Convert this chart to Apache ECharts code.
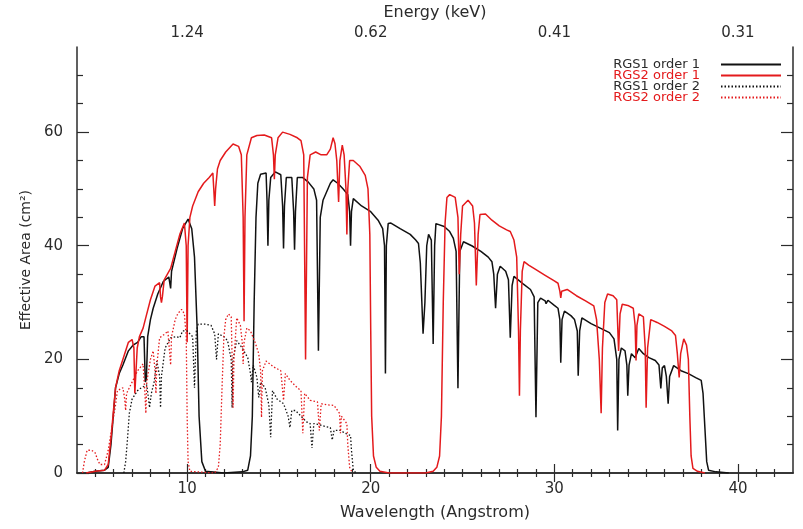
<!DOCTYPE html>
<html>
<head>
<meta charset="utf-8">
<script src="https://cdn.jsdelivr.net/npm/echarts@6/dist/echarts.min.js"></script>
<style>
  html, body { margin: 0; padding: 0; background: #fff; }
  #chart { width: 803px; height: 529px; }
</style>
</head>
<body>
<div id="chart"></div>
<script>
// wavelength (Angstrom) / effective area (cm^2)
const rgs1Order1 = [
  [4.5, 0], [5.0, 0.3], [5.5, 0.5], [5.7, 1], [5.85, 5], [6.0, 11], [6.1, 15], [6.3, 17.5],
  [6.5, 19], [6.8, 21.5], [7.05, 22.5], [7.3, 23], [7.5, 24], [7.65, 24], [7.72, 16],
  [7.78, 16.5], [7.85, 24], [8.0, 27], [8.15, 29], [8.4, 31.5], [8.7, 33.7], [9.0, 34.5],
  [9.1, 32.5], [9.15, 35.5], [9.45, 39.5], [9.75, 43], [10.05, 44.7], [10.25, 43], [10.4, 38],
  [10.55, 25], [10.65, 10], [10.8, 2], [11.0, 0.3], [12.0, 0], [13.0, 0.2], [13.3, 0.5],
  [13.45, 3], [13.55, 10], [13.65, 30], [13.75, 45], [13.85, 51], [14.0, 52.6], [14.3, 52.8],
  [14.35, 48], [14.4, 40], [14.45, 48], [14.55, 52], [14.8, 53], [15.1, 52.5], [15.2, 47],
  [15.25, 39.5], [15.3, 47], [15.4, 52], [15.7, 52], [15.8, 46], [15.85, 39.3], [15.9, 46],
  [16.0, 52], [16.3, 52], [16.6, 51.2], [16.9, 50], [17.05, 48], [17.15, 21.5], [17.25, 45],
  [17.4, 48], [17.6, 49.5], [17.8, 51], [17.95, 51.6], [18.2, 51], [18.5, 50], [18.75, 49],
  [18.85, 46], [18.9, 40], [18.95, 46], [19.05, 48.3], [19.5, 47], [20.0, 46], [20.4, 44.5],
  [20.65, 43], [20.75, 40], [20.8, 17.5], [20.85, 40], [20.95, 43.9], [21.1, 44], [21.6, 43],
  [22.15, 42], [22.45, 41], [22.6, 40.4], [22.7, 37], [22.8, 36.7], [22.85, 24.5], [22.95, 30],
  [23.05, 40], [23.15, 42], [23.3, 41], [23.4, 22.7], [23.48, 40], [23.55, 43.9], [24.0, 43.4],
  [24.3, 42.5], [24.5, 41.3], [24.65, 39], [24.75, 14.9], [24.85, 39], [25.05, 40.7],
  [25.5, 40], [26.0, 39], [26.4, 38], [26.6, 37.2], [26.7, 35], [26.8, 29], [26.9, 35],
  [27.05, 36.4], [27.35, 35.5], [27.5, 34], [27.6, 23.8], [27.7, 33], [27.8, 34.6],
  [28.3, 33.3], [28.7, 32.3], [28.9, 31], [29.0, 9.8], [29.1, 30], [29.25, 30.8], [29.5, 30.3],
  [29.55, 29.8], [29.65, 30.4], [30.0, 29.5], [30.2, 29], [30.3, 27], [30.35, 19.4],
  [30.42, 27], [30.55, 28.5], [30.9, 27.7], [31.1, 27], [31.25, 25], [31.3, 17.1], [31.38, 25],
  [31.5, 27.3], [32.0, 26.3], [32.5, 25.5], [33.0, 24.7], [33.25, 23.6], [33.4, 20],
  [33.45, 7.5], [33.52, 20], [33.65, 22], [33.85, 21.5], [33.95, 19], [34.0, 13.6], [34.07, 19],
  [34.2, 21], [34.4, 20.3], [34.6, 21.9], [34.85, 21], [35.15, 20.3], [35.5, 19.8], [35.7, 19],
  [35.8, 14.9], [35.88, 18.5], [36.0, 18.9], [36.1, 17], [36.2, 12.2], [36.28, 17], [36.5, 18.9],
  [36.9, 18], [37.3, 17.5], [37.7, 16.8], [38.0, 16.3], [38.1, 14], [38.2, 8], [38.3, 2],
  [38.4, 0.5], [38.8, 0.2], [39.5, 0],
];

const rgs2Order1 = [
  [4.5, 0], [5.0, 0.3], [5.5, 0.5], [5.7, 1.5], [5.85, 6], [6.0, 11.5], [6.1, 15], [6.3, 18],
  [6.55, 20.5], [6.8, 23], [7.0, 23.5], [7.1, 22], [7.15, 14], [7.22, 14], [7.28, 22], [7.4, 24],
  [7.6, 25.5], [7.8, 28], [8.0, 30.5], [8.25, 32.9], [8.5, 33.5], [8.55, 31], [8.6, 30],
  [8.65, 31], [8.75, 34], [9.1, 36], [9.35, 39], [9.6, 42], [9.85, 44], [9.95, 40], [10.0, 23],
  [10.05, 40], [10.15, 45], [10.3, 47], [10.6, 49.5], [10.9, 51], [11.2, 52], [11.4, 52.8],
  [11.45, 50], [11.5, 47], [11.55, 50], [11.65, 53.5], [11.8, 55], [12.1, 56.5], [12.5, 57.9],
  [12.8, 57.5], [12.95, 56], [13.05, 45], [13.1, 26.7], [13.15, 45], [13.25, 56], [13.5, 59],
  [13.8, 59.4], [14.2, 59.5], [14.6, 59], [14.7, 56], [14.75, 51.7], [14.8, 56], [14.95, 59],
  [15.2, 60], [15.6, 59.6], [16.0, 59], [16.2, 58.5], [16.35, 56], [16.45, 20], [16.55, 52],
  [16.7, 56], [17.0, 56.5], [17.3, 56], [17.6, 56], [17.8, 57], [17.95, 59], [18.05, 58],
  [18.15, 55], [18.25, 47.7], [18.32, 55], [18.45, 57.7], [18.55, 56], [18.65, 50], [18.7, 42],
  [18.75, 50], [18.85, 55], [19.05, 55], [19.4, 54], [19.7, 52.4], [19.85, 50], [19.95, 42],
  [20.0, 25], [20.05, 10], [20.15, 3], [20.3, 1], [20.5, 0.3], [21.0, 0], [23.0, 0],
  [23.4, 0.3], [23.6, 1], [23.75, 3], [23.85, 10], [23.95, 30], [24.05, 44], [24.15, 48.5],
  [24.3, 49], [24.6, 48.5], [24.75, 45], [24.82, 35], [24.9, 42], [25.0, 47], [25.3, 48],
  [25.55, 47], [25.65, 44], [25.75, 33], [25.85, 42], [25.95, 45.5], [26.25, 45.6], [26.6, 44.5],
  [27.0, 43.5], [27.4, 42.8], [27.6, 42.5], [27.8, 41], [27.95, 38], [28.05, 25], [28.1, 13.6],
  [28.15, 25], [28.25, 35.5], [28.35, 37.2], [28.6, 36.6], [29.0, 35.8], [29.5, 34.8],
  [30.0, 33.8], [30.2, 33.4], [30.3, 32], [30.35, 30.8], [30.4, 32], [30.7, 32.3], [31.2, 31.2],
  [31.7, 30.3], [32.15, 29.4], [32.3, 27], [32.45, 20], [32.55, 10.5], [32.62, 22], [32.75, 30],
  [32.9, 31.5], [33.2, 31.2], [33.4, 30.5], [33.5, 21.5], [33.58, 28], [33.7, 29.7], [34.0, 29.5],
  [34.3, 29], [34.4, 26], [34.45, 19.8], [34.5, 26], [34.6, 28], [34.85, 27.5], [34.95, 22],
  [35.0, 11.5], [35.08, 22], [35.25, 27], [35.6, 26.5], [36.0, 25.8], [36.4, 25], [36.6, 24.2],
  [36.7, 21], [36.8, 16.8], [36.88, 21], [37.05, 23.6], [37.2, 22.5], [37.3, 20], [37.38, 10],
  [37.45, 3], [37.55, 0.8], [37.8, 0.3], [38.2, 0],
];

const rgs1Order2 = [
  [6.55, 0], [6.65, 2], [6.75, 6], [6.85, 10.5], [7.0, 13], [7.3, 14.5], [7.5, 15], [7.8, 15.5],
  [7.9, 13], [7.95, 11.5], [8.05, 14], [8.2, 16], [8.35, 19.7], [8.5, 17], [8.55, 11.5],
  [8.6, 17], [8.8, 22], [9.1, 23.8], [9.4, 24], [9.6, 23.8], [9.75, 25], [10.0, 25], [10.3, 24],
  [10.4, 15], [10.5, 25], [10.6, 26.2], [11.0, 26.2], [11.3, 26], [11.5, 24.5], [11.6, 20],
  [11.7, 24.5], [12.0, 24], [12.2, 23.3], [12.4, 20], [12.45, 11.5], [12.5, 20], [12.7, 23.3],
  [13.0, 22], [13.3, 20.3], [13.45, 17.5], [13.5, 16], [13.6, 19], [13.8, 16.8], [13.9, 13.3],
  [14.0, 16], [14.25, 15], [14.45, 12], [14.55, 6.3], [14.65, 14.5], [14.9, 13], [15.25, 12.2],
  [15.5, 10], [15.6, 8], [15.7, 11], [15.9, 11], [16.2, 10], [16.5, 9], [16.7, 8.7], [16.8, 4.4],
  [16.9, 8.7], [17.2, 8.5], [17.5, 8.2], [17.8, 8], [17.9, 5.8], [18.0, 7.5], [18.35, 7.5],
  [18.6, 7], [18.9, 6.6], [18.95, 4], [19.05, 0.5], [19.2, 0],
];

const rgs2Order2 = [
  [4.3, 0], [4.4, 2], [4.55, 4], [4.8, 4], [5.0, 3.5], [5.1, 2.5], [5.25, 1.5], [5.5, 1.5],
  [5.7, 4], [5.9, 8], [6.1, 12], [6.2, 14.5], [6.5, 15], [6.6, 13], [6.65, 11], [6.7, 14],
  [7.0, 16], [7.3, 18], [7.6, 19.2], [7.7, 14], [7.75, 10.5], [7.8, 16], [8.0, 20], [8.15, 21.5],
  [8.25, 18], [8.3, 14], [8.35, 19], [8.5, 23.8], [8.8, 24.5], [8.95, 25], [9.05, 21], [9.1, 19],
  [9.15, 24], [9.35, 27], [9.5, 28.1], [9.7, 28.8], [9.85, 28], [9.95, 24], [10.0, 10],
  [10.05, 2], [10.15, 0.3], [11.5, 0], [11.7, 1], [11.8, 5], [11.9, 15], [12.0, 24], [12.1, 27],
  [12.25, 28], [12.4, 27.5], [12.45, 20], [12.5, 11.5], [12.55, 20], [12.7, 27.3], [12.9, 26],
  [13.0, 23], [13.05, 19.2], [13.1, 23], [13.25, 25.5], [13.45, 25], [13.7, 23], [13.9, 21],
  [14.0, 18], [14.05, 9.8], [14.1, 18], [14.3, 19.7], [14.7, 18.7], [15.1, 18], [15.25, 12.8],
  [15.35, 17.5], [15.6, 16.3], [16.0, 15], [16.2, 14.5], [16.3, 7], [16.4, 14], [16.7, 12.8],
  [16.8, 13], [17.1, 12.5], [17.2, 7.5], [17.3, 12.2], [17.6, 12], [18.0, 11.9], [18.3, 10.5],
  [18.35, 7], [18.4, 10], [18.7, 8.7], [18.75, 5], [18.85, 1], [19.0, 0],
];

const wavelengthTicks = [10, 20, 30, 40];
const energyLabels = ['1.24', '0.62', '0.41', '0.31'];
const areaTicks = [0, 20, 40, 60];

const waveMin = 4;
const waveMax = 43;
const areaMax = 75;

const waveMinor = [];
for (let w = 5; w < waveMax; w++) {
  if (w % 10 !== 0) waveMinor.push(w);
}
const areaMinor = [];
for (let a = 5; a < areaMax; a += 5) {
  if (a % 20 !== 0) areaMinor.push(a);
}

const font = 'DejaVu Sans';
const ink = '#2b2b2b';
const red = '#e41a1c';

function xAxisFor(position, ticks, major, extra) {
  return Object.assign({
    type: 'value',
    position,
    min: waveMin,
    max: waveMax,
    splitLine: { show: false },
    axisLine: { show: major, lineStyle: { color: ink, width: 1.5 } },
    axisTick: {
      inside: true,
      length: major ? 9 : 4,
      customValues: ticks,
      lineStyle: { color: ink, width: 1.2 },
    },
    axisLabel: { show: false },
  }, extra || {});
}

function yAxisFor(position, ticks, major, extra) {
  return Object.assign({
    type: 'value',
    position,
    min: 0,
    max: areaMax,
    splitLine: { show: false },
    axisLine: { show: major, lineStyle: { color: ink, width: 1.5 } },
    axisTick: {
      inside: true,
      length: major ? 12 : 6,
      customValues: ticks,
      lineStyle: { color: ink, width: 1.2 },
    },
    axisLabel: { show: false },
  }, extra || {});
}

const chart = echarts.init(document.getElementById('chart'), null, { renderer: 'canvas' });

const lineSeries = (name, data, color, dotted) => ({
  name,
  type: 'line',
  data,
  xAxisIndex: 0,
  yAxisIndex: 0,
  symbol: 'none',
  showSymbol: false,
  animation: false,
  lineStyle: {
    color,
    width: dotted ? 1.3 : 1.5,
    type: dotted ? [1.5, 2] : 'solid',
  },
  itemStyle: { color },
});

const opts = {
  animation: false,
  backgroundColor: '#fff',
  grid: { left: 77, right: 10, top: 42, bottom: 56 },
  legend: {
    orient: 'vertical',
    right: 16,
    top: 53,
    align: 'right',
    itemWidth: 60,
    itemHeight: 8,
    itemGap: -2,
    itemStyle: { opacity: 0 },
    textStyle: {
      fontFamily: font,
      fontSize: 13,
      lineHeight: 11,
      color: ink,
      padding: [0, 16, 0, 0],
    },
    data: [
      { name: 'RGS1 order 1', textStyle: { color: ink } },
      { name: 'RGS2 order 1', textStyle: { color: red } },
      { name: 'RGS1 order 2', textStyle: { color: ink } },
      { name: 'RGS2 order 2', textStyle: { color: red } },
    ],
  },
  xAxis: [
    xAxisFor('bottom', wavelengthTicks, true, {
      name: 'Wavelength (Angstrom)',
      nameLocation: 'middle',
      nameGap: 32,
      nameTextStyle: { fontFamily: font, fontSize: 16, color: ink },
      axisLabel: {
        customValues: wavelengthTicks,
        margin: 9,
        fontFamily: font,
        fontSize: 15,
        color: ink,
      },
    }),
    xAxisFor('bottom', waveMinor, false),
    xAxisFor('top', wavelengthTicks, true, {
      name: 'Energy (keV)',
      nameLocation: 'middle',
      nameGap: 22,
      nameTextStyle: { fontFamily: font, fontSize: 16, color: ink },
      axisLabel: {
        customValues: wavelengthTicks,
        margin: 6,
        fontFamily: font,
        fontSize: 15,
        color: ink,
        formatter: (v) => energyLabels[wavelengthTicks.indexOf(v)] || '',
      },
    }),
    xAxisFor('top', waveMinor, false),
  ],
  yAxis: [
    yAxisFor('left', areaTicks, true, {
      name: 'Effective Area (cm²)',
      nameLocation: 'middle',
      nameGap: 41,
      nameTextStyle: { fontFamily: font, fontSize: 14, color: ink },
      axisLabel: {
        customValues: areaTicks,
        margin: 14,
        fontFamily: font,
        fontSize: 15,
        color: ink,
      },
    }),
    yAxisFor('left', areaMinor, false),
    yAxisFor('right', areaTicks.slice(1), true),
    yAxisFor('right', areaMinor, false),
  ],
  series: [
    lineSeries('RGS1 order 1', rgs1Order1, '#111', false),
    lineSeries('RGS2 order 1', rgs2Order1, red, false),
    lineSeries('RGS1 order 2', rgs1Order2, '#111', true),
    lineSeries('RGS2 order 2', rgs2Order2, red, true),
  ],
};

chart.setOption(opts);
</script>
</body>
</html>
